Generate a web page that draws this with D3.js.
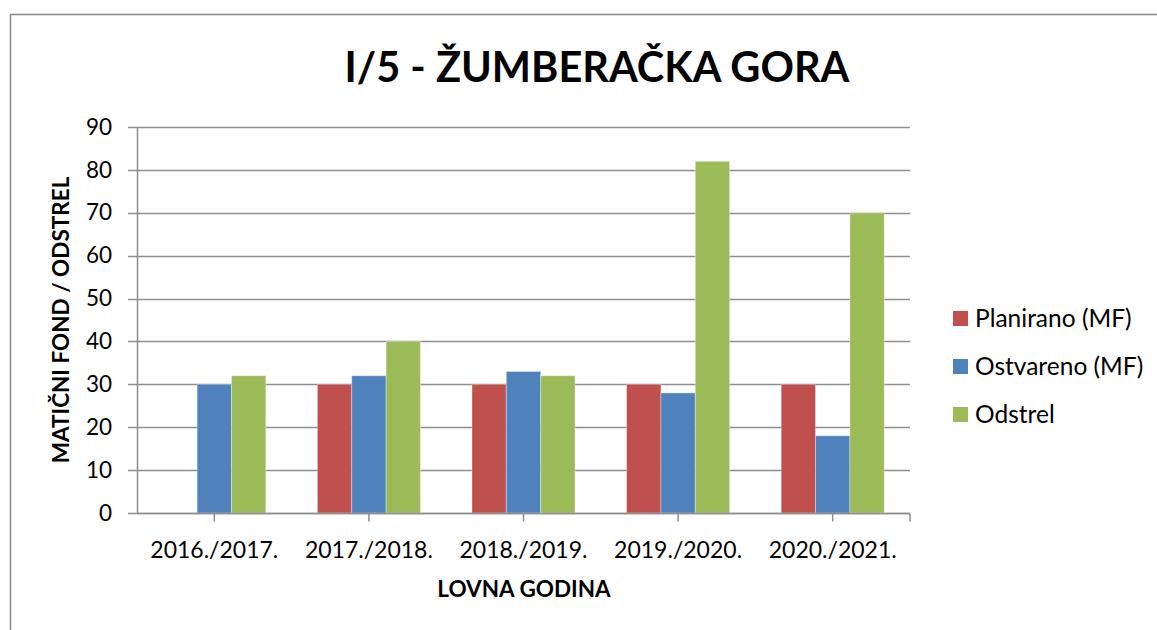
<!DOCTYPE html>
<html>
<head>
<meta charset="utf-8">
<script src="https://cdn.jsdelivr.net/npm/d3@7"></script>
<style>
  body { margin: 0; background: #fff; }
  svg { display: block; font-family: Lato, "Open Sans", sans-serif; }
</style>
</head>
<body>
<div id="chart"></div>
<script>
// data
var categories = ["2016./2017.", "2017./2018.", "2018./2019.", "2019./2020.", "2020./2021."];
var seriesNames = ["Planirano (MF)", "Ostvareno (MF)", "Odstrel"];
var planirano = [null, 30, 30, 30, 30];
var ostvareno = [30, 32, 33, 28, 18];
var odstrel = [32, 40, 32, 82, 70];
var yTicks = [0, 10, 20, 30, 40, 50, 60, 70, 80, 90];
var colors = ["#C0504D", "#4F81BD", "#9BBB59"];

var W = 1157, H = 630;
var plot = { left: 137, right: 910, top: 127, bottom: 513 };

var svg = d3.select("#chart").append("svg")
    .attr("width", W)
    .attr("height", H);

// outer chart border (only top and left visible)
svg.append("path")
    .attr("d", "M10.5," + H + "V14.5H" + W)
    .attr("fill", "none")
    .attr("stroke", "#8c8c8c")
    .attr("stroke-width", 1.5);

var x0 = d3.scaleBand().domain(categories).range([plot.left, plot.right]).padding(0);
var gap = x0.bandwidth() / 3; // gap width 150%
var x1 = d3.scaleBand().domain(seriesNames).range([gap / 2, x0.bandwidth() - gap / 2]).padding(0);
var y = d3.scaleLinear().domain([0, 90]).range([plot.bottom, plot.top]);

// gridlines
svg.append("g")
    .selectAll("line")
    .data(yTicks)
    .enter().append("line")
    .attr("x1", plot.left - 9)
    .attr("x2", plot.right)
    .attr("y1", function(d) { return Math.round(y(d)) + 0.5; })
    .attr("y2", function(d) { return Math.round(y(d)) + 0.5; })
    .attr("stroke", "#8e8e8e")
    .attr("stroke-width", 1.5);

// y axis labels
var yAxis = d3.axisLeft(y).tickValues(yTicks).tickSize(0).tickPadding(25);
var gY = svg.append("g")
    .attr("transform", "translate(" + plot.left + ",0)")
    .call(yAxis);
gY.select(".domain").attr("stroke", "#8e8e8e").attr("stroke-width", 1.5);
gY.selectAll("text")
    .attr("font-family", "Lato, sans-serif")
    .attr("font-size", 22.5)
    .attr("fill", "#000");

// bars
var table = categories.map(function(c, i) {
    return { cat: c, values: [planirano[i], ostvareno[i], odstrel[i]] };
});

var groups = svg.append("g")
    .selectAll("g")
    .data(table)
    .enter().append("g")
    .attr("transform", function(d) { return "translate(" + x0(d.cat) + ",0)"; });

groups.selectAll("rect")
    .data(function(d) {
        return d.values.map(function(v, j) { return { name: seriesNames[j], value: v, j: j }; })
            .filter(function(e) { return e.value != null; });
    })
    .enter().append("rect")
    .attr("x", function(d) { return x1(d.name); })
    .attr("width", x1.bandwidth())
    .attr("y", function(d) { return y(d.value); })
    .attr("height", function(d) { return y(0) - y(d.value); })
    .attr("fill", function(d) { return colors[d.j]; })
    .attr("stroke", "#fff")
    .attr("stroke-opacity", 0.35)
    .attr("stroke-width", 1);

// x axis
var gX = svg.append("g")
    .attr("transform", "translate(0," + (plot.bottom + 0.5) + ")");
gX.append("line")
    .attr("x1", plot.left)
    .attr("x2", plot.right)
    .attr("stroke", "#8e8e8e")
    .attr("stroke-width", 1.5);
var tickXs = categories.map(function(c) { return x0(c) + x0.bandwidth() / 2; }).concat([plot.right]);
gX.selectAll("line.tick")
    .data(tickXs)
    .enter().append("line")
    .attr("class", "tick")
    .attr("x1", function(d) { return d; })
    .attr("x2", function(d) { return d; })
    .attr("y1", 0)
    .attr("y2", 8)
    .attr("stroke", "#8e8e8e")
    .attr("stroke-width", 1.5);
gX.selectAll("text")
    .data(categories)
    .enter().append("text")
    .attr("x", function(d) { return x0(d) + x0.bandwidth() / 2; })
    .attr("y", 44)
    .attr("text-anchor", "middle")
    .attr("font-size", 23)
    .text(function(d) { return d; });

// titles
svg.append("text")
    .attr("x", 597)
    .attr("y", 82)
    .attr("text-anchor", "middle")
    .attr("font-size", 41.5)
    .attr("font-weight", "bold")
    .text("I/5 - ŽUMBERAČKA GORA");

svg.append("text")
    .attr("x", 524)
    .attr("y", 597)
    .attr("text-anchor", "middle")
    .attr("font-size", 22.5)
    .attr("font-weight", "bold")
    .text("LOVNA GODINA");

svg.append("text")
    .attr("transform", "translate(69," + 320 + ") rotate(-90)")
    .attr("text-anchor", "middle")
    .attr("font-size", 22.5)
    .attr("font-weight", "bold")
    .text("MATIČNI FOND / ODSTREL");

// legend
var legend = svg.append("g")
    .selectAll("g")
    .data(seriesNames)
    .enter().append("g")
    .attr("transform", function(d, i) { return "translate(953," + (318.5 + i * 48) + ")"; });
legend.append("rect")
    .attr("x", 0)
    .attr("y", -7.5)
    .attr("width", 15)
    .attr("height", 15)
    .attr("fill", function(d, i) { return colors[i]; });
legend.append("text")
    .attr("x", 22)
    .attr("y", 8.5)
    .attr("font-size", 24.5)
    .text(function(d) { return d; });
</script>
</body>
</html>
